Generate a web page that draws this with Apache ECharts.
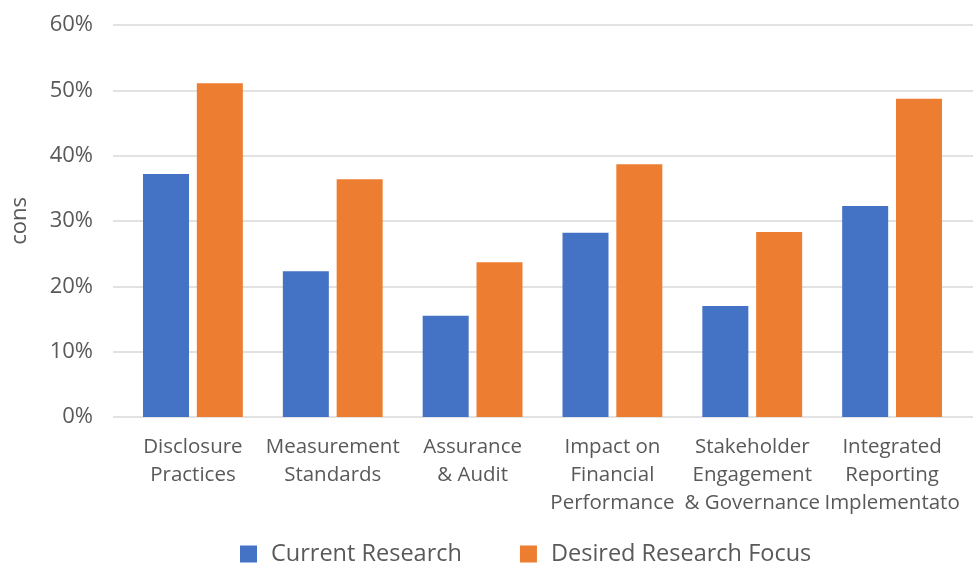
<!DOCTYPE html>
<html>
<head>
<meta charset="utf-8">
<script src="https://cdn.jsdelivr.net/npm/echarts@6/dist/echarts.min.js"></script>
<style>
html,body{margin:0;padding:0;background:#fff;}
#chart{width:973px;height:566px;}
</style>
</head>
<body>
<div id="chart"></div>
<script>
const categories = [
  'Disclosure\nPractices',
  'Measurement\nStandards',
  'Assurance\n& Audit',
  'Impact on\nFinancial\nPerformance',
  'Stakeholder\nEngagement\n& Governance',
  'Integrated\nReporting\nImplementato'
];
const currentResearch = [37.2, 22.3, 15.5, 28.2, 17.0, 32.3];
const desiredFocus = [51.1, 36.4, 23.7, 38.7, 28.3, 48.7];
const yTicks = [0, 10, 20, 30, 40, 50, 60];

const FONT = 'Open Sans';
const TXT = '#595959';

const chart = echarts.init(document.getElementById('chart'));
chart.setOption({
  animation: false,
  textStyle: { fontFamily: FONT },
  grid: [
    { left: 113, right: 0, top: 25, bottom: 149, containLabel: false },
    { left: 123, right: 11, top: 25, bottom: 149, containLabel: false }
  ],
  legend: {
    bottom: 0,
    left: 240,
    padding: 0,
    itemWidth: 17,
    itemHeight: 17,
    itemGap: 58,
    icon: 'rect',
    textStyle: { fontFamily: FONT, fontSize: 23.5, color: TXT, padding: [0, 0, 0, 9] },
    data: ['Current Research', 'Desired Research Focus']
  },
  xAxis: [
    { type: 'category', gridIndex: 0, data: categories, show: false },
    {
      type: 'category', gridIndex: 1, data: categories,
      axisLine: { show: false },
      axisTick: { show: false },
      axisLabel: { fontFamily: FONT, fontSize: 20.5, color: TXT, lineHeight: 28, margin: 16, interval: 0 }
    }
  ],
  yAxis: [
    {
      type: 'value', gridIndex: 0, min: yTicks[0], max: yTicks[yTicks.length - 1], interval: 10,
      name: 'cons', nameLocation: 'middle', nameGap: 82, nameRotate: 90,
      nameTextStyle: { fontFamily: FONT, fontSize: 22, color: TXT },
      axisLine: { show: false },
      axisTick: { show: false },
      axisLabel: { formatter: '{value}%', fontFamily: FONT, fontSize: 22, color: TXT, margin: 20 },
      splitLine: { lineStyle: { color: '#d9d9d9', width: 1.5 } }
    },
    {
      type: 'value', gridIndex: 1, min: yTicks[0], max: yTicks[yTicks.length - 1], interval: 10,
      show: false, splitLine: { show: false }
    }
  ],
  series: [
    {
      name: 'Current Research', type: 'bar', xAxisIndex: 1, yAxisIndex: 1,
      data: currentResearch, barWidth: 46, barGap: '17%',
      itemStyle: { color: '#4472C4' }
    },
    {
      name: 'Desired Research Focus', type: 'bar', xAxisIndex: 1, yAxisIndex: 1,
      data: desiredFocus, barWidth: 46, barGap: '17%',
      itemStyle: { color: '#ED7D31' }
    }
  ]
});
</script>
</body>
</html>
